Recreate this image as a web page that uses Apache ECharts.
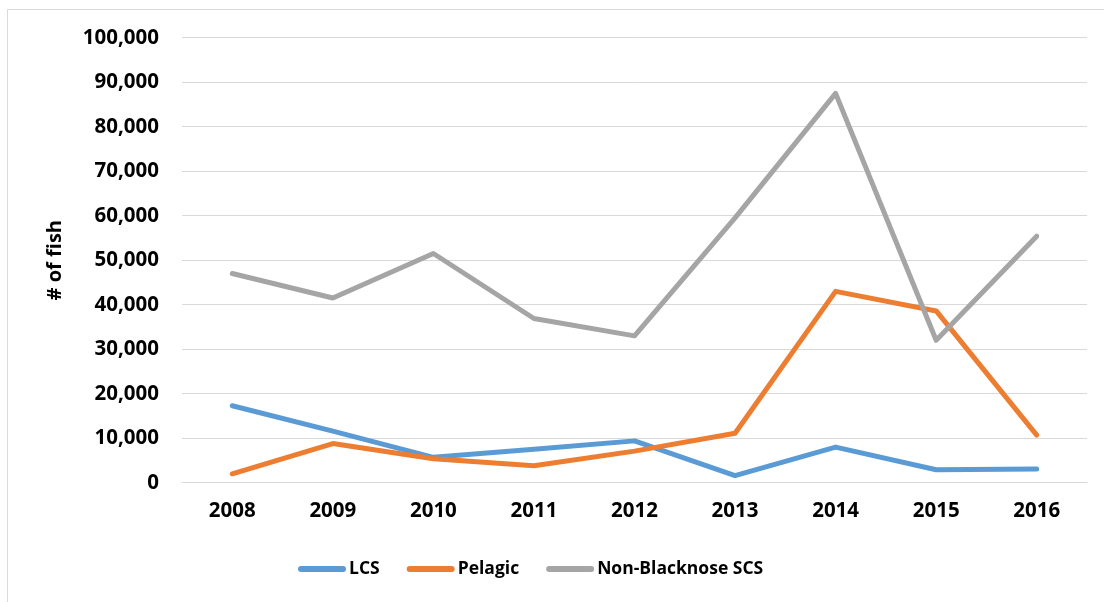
<!DOCTYPE html>
<html>
<head>
<meta charset="utf-8">
<script src="https://cdn.jsdelivr.net/npm/echarts@6/dist/echarts.min.js"></script>
<style>
html,body{margin:0;padding:0;background:#fff;}
#c{width:1104px;height:602px;}
</style>
</head>
<body>
<div id="c"></div>
<script>
var years = ['2008','2009','2010','2011','2012','2013','2014','2015','2016'];
var lcs = [17300, 11600, 5700, 7500, 9400, 1600, 8000, 2900, 3100];
var pelagic = [2000, 8800, 5400, 3800, 7100, 11100, 43000, 38600, 10700];
var nonBlacknoseSCS = [47000, 41500, 51500, 36900, 33000, 59500, 87500, 32000, 55400];
var seriesNames = ['LCS', 'Pelagic', 'Non-Blacknose SCS'];
var colors = ['#5B9BD5', '#ED7D31', '#A5A5A5'];
var yTicks = {min: 0, max: 100000, interval: 10000};

var FONT = 'Open Sans';
var chart = echarts.init(document.getElementById('c'), null, {renderer: 'canvas'});
function mk(name, data, color) {
  return {
    name: name, type: 'line', data: data, symbol: 'none', smooth: false,
    lineStyle: {color: color, width: 5, cap: 'round', join: 'round'},
    itemStyle: {color: color}
  };
}
chart.setOption({
  animation: false,
  textStyle: {fontFamily: FONT},
  graphic: [{
    type: 'rect', shape: {x: 7.5, y: 9.5, width: 1200, height: 700},
    style: {fill: 'none', stroke: '#D9D9D9', lineWidth: 1}, silent: true, z: -10
  }],
  grid: {left: 182, right: 17, top: 37.7, bottom: 119.3, containLabel: false},
  legend: {
    data: seriesNames, top: 555, left: 293,
    itemWidth: 48, itemHeight: 6, itemGap: 27,
    icon: 'path://M3,0 L45,0 A3,3 0 0 1 45,6 L3,6 A3,3 0 0 1 3,0 Z',
    textStyle: {fontFamily: FONT, fontWeight: 'bold', fontSize: 17.5, color: '#000', padding: [0, 0, 0, -2]}
  },
  xAxis: {
    type: 'category', data: years, boundaryGap: true,
    axisLine: {show: true, lineStyle: {color: '#D9D9D9', width: 1}},
    axisTick: {show: false},
    axisLabel: {fontFamily: FONT, fontWeight: 'bold', fontSize: 20.5, color: '#000', margin: 18}
  },
  yAxis: {
    type: 'value', min: yTicks.min, max: yTicks.max, interval: yTicks.interval,
    name: '# of fish', nameLocation: 'middle', nameGap: 117, nameRotate: 90,
    nameTextStyle: {fontFamily: FONT, fontWeight: 'bold', fontSize: 20, color: '#000'},
    axisLine: {show: false}, axisTick: {show: false},
    splitLine: {lineStyle: {color: '#D9D9D9', width: 1}},
    axisLabel: {
      fontFamily: FONT, fontWeight: 'bold', fontSize: 20.5, color: '#000', margin: 23,
      formatter: function (v) { return v.toLocaleString('en-US'); }
    }
  },
  series: [mk(seriesNames[0], lcs, colors[0]), mk(seriesNames[1], pelagic, colors[1]), mk(seriesNames[2], nonBlacknoseSCS, colors[2])]
});
</script>
</body>
</html>
